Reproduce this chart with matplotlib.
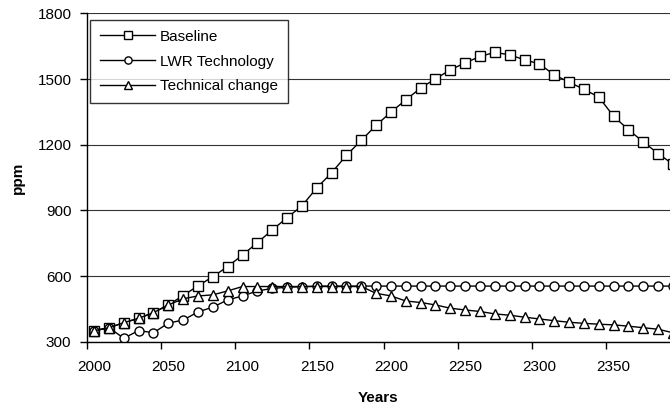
import matplotlib.pyplot as plt

# Dados (ppm por década)
years = list(range(2000, 2400, 10))

baseline = [351, 365, 388, 408, 434, 469, 512, 556, 598, 644,
            697, 753, 811, 867, 921, 1003, 1072, 1152, 1220, 1289,
            1349, 1405, 1459, 1501, 1542, 1574, 1603, 1622, 1610, 1588,
            1569, 1519, 1486, 1453, 1418, 1330, 1269, 1213, 1160, 1111]

lwr = [351, 365, 317, 352, 342, 386, 400, 437, 459, 492,
       510, 533, 544, 550, 552, 555, 555, 555, 555, 555,
       555, 555, 555, 555, 555, 555, 555, 555, 555, 555,
       555, 555, 555, 555, 555, 555, 555, 555, 555, 555]

tech = [351, 365, 388, 408, 434, 469, 497, 510, 515, 533,
        553, 553, 553, 553, 553, 553, 553, 553, 553, 522,
        510, 487, 480, 469, 454, 446, 439, 428, 422, 413,
        405, 397, 390, 385, 381, 378, 372, 365, 358, 342]

series_names = ['Baseline', 'LWR Technology', 'Technical change']
label_years = [2000, 2050, 2100, 2150, 2200, 2250, 2300, 2350]
y_ticks = [300, 600, 900, 1200, 1500, 1800]

plt.rcParams['font.family'] = ['Liberation Sans', 'DejaVu Sans']

fig = plt.figure(figsize=(6.7, 4.11), dpi=100)
ax = fig.add_axes([0.1294, 0.168, 0.8706, 0.7996])

mk = dict(color='black', lw=1.0, markerfacecolor='white',
          markeredgecolor='black', markeredgewidth=1.0)
ax.plot(years, baseline, marker='s', markersize=6.5, label=series_names[0], **mk)
ax.plot(years, lwr, marker='o', markersize=6.5, label=series_names[1], **mk)
ax.plot(years, tech, marker='^', markersize=7, label=series_names[2], **mk)

# Eixos
ax.set_ylim(300, 1800)
ax.set_xlim(1995, 2388)
ax.set_yticks(y_ticks)
ax.tick_params(axis='y', length=5, width=1, pad=6, labelsize=11)
ax.yaxis.grid(True, color='#333333', lw=0.8)
ax.set_axisbelow(True)

# marcas entre categorias, rótulos no centro
ax.set_xticks([y - 5 for y in label_years])
ax.set_xticklabels([])
ax.tick_params(axis='x', which='major', length=5, width=1)
ax.set_xticks(label_years, minor=True)
ax.set_xticklabels([str(y) for y in label_years], minor=True)
ax.tick_params(axis='x', which='minor', length=0, pad=13, labelsize=11)

for s in ['top', 'right']:
    ax.spines[s].set_visible(False)
for s in ['left', 'bottom']:
    ax.spines[s].set_linewidth(1.0)
    ax.spines[s].set_color('black')

ax.set_xlabel('Years', fontweight='bold', fontsize=11, labelpad=12)
ax.set_ylabel('ppm', fontweight='bold', fontsize=11, labelpad=9)

leg = ax.legend(loc='upper left', bbox_to_anchor=(0.006, 0.98), fontsize=11,
                frameon=True, fancybox=False, edgecolor='black',
                borderpad=0.65, labelspacing=0.7, handlelength=3.6,
                handletextpad=0.3, borderaxespad=0, markerscale=0.8)
leg.get_frame().set_linewidth(1.0)

plt.savefig('out.png', dpi=100)
